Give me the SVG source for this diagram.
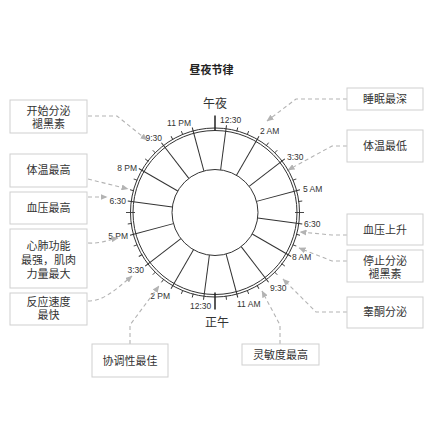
<svg xmlns="http://www.w3.org/2000/svg" width="437" height="437" viewBox="0 0 437 437">
<style>
text{font-family:"Liberation Sans","Noto Sans CJK SC",sans-serif;fill:#333}
.t{font-size:8.5px}
.b{font-size:11px;text-anchor:middle}
.box{fill:#fff;stroke:#cfcfcf;stroke-width:1}
.ln{stroke:#333;stroke-width:1;fill:none}
.tk{stroke:#333;stroke-width:0.9}
.c{fill:none;stroke:#b3b3b3;stroke-width:1.1;stroke-dasharray:4 3}
</style>
<defs>
<marker id="ah" markerUnits="userSpaceOnUse" markerWidth="7" markerHeight="6" refX="6.5" refY="3" orient="auto"><path d="M0,0 L7,3 L0,6 z" fill="#b3b3b3"/></marker>
</defs>
<rect width="437" height="437" fill="#fff"/>
<text x="211.5" y="74" style="font-size:11px;font-weight:bold;text-anchor:middle;fill:#222">昼夜节律</text>
<g id="clock">
<circle cx="215" cy="212.5" r="84.5" class="ln"/>
<circle cx="215" cy="212.5" r="82" class="ln"/>
<circle cx="215" cy="212.5" r="43" class="ln"/>
<g class="ln">
<line x1="215" y1="169.5" x2="215" y2="124.5" transform="rotate(7.5 215 212.5)"/>
<line x1="215" y1="169.5" x2="215" y2="124.5" transform="rotate(30 215 212.5)"/>
<line x1="215" y1="169.5" x2="215" y2="124.5" transform="rotate(52.5 215 212.5)"/>
<line x1="215" y1="169.5" x2="215" y2="124.5" transform="rotate(75 215 212.5)"/>
<line x1="215" y1="169.5" x2="215" y2="124.5" transform="rotate(97.5 215 212.5)"/>
<line x1="215" y1="169.5" x2="215" y2="124.5" transform="rotate(120 215 212.5)"/>
<line x1="215" y1="169.5" x2="215" y2="124.5" transform="rotate(142.5 215 212.5)"/>
<line x1="215" y1="169.5" x2="215" y2="124.5" transform="rotate(165 215 212.5)"/>
<line x1="215" y1="169.5" x2="215" y2="124.5" transform="rotate(187.5 215 212.5)"/>
<line x1="215" y1="169.5" x2="215" y2="124.5" transform="rotate(210 215 212.5)"/>
<line x1="215" y1="169.5" x2="215" y2="124.5" transform="rotate(232.5 215 212.5)"/>
<line x1="215" y1="169.5" x2="215" y2="124.5" transform="rotate(255 215 212.5)"/>
<line x1="215" y1="169.5" x2="215" y2="124.5" transform="rotate(277.5 215 212.5)"/>
<line x1="215" y1="169.5" x2="215" y2="124.5" transform="rotate(300 215 212.5)"/>
<line x1="215" y1="169.5" x2="215" y2="124.5" transform="rotate(322.5 215 212.5)"/>
<line x1="215" y1="169.5" x2="215" y2="124.5" transform="rotate(345 215 212.5)"/>
</g>
<g class="tk">
<line x1="215" y1="128.5" x2="215" y2="124.5" transform="rotate(15 215 212.5)"/>
<line x1="215" y1="128.5" x2="215" y2="124.5" transform="rotate(22.5 215 212.5)"/>
<line x1="215" y1="128.5" x2="215" y2="124.5" transform="rotate(37.5 215 212.5)"/>
<line x1="215" y1="128.5" x2="215" y2="124.5" transform="rotate(45 215 212.5)"/>
<line x1="215" y1="128.5" x2="215" y2="124.5" transform="rotate(60 215 212.5)"/>
<line x1="215" y1="128.5" x2="215" y2="124.5" transform="rotate(67.5 215 212.5)"/>
<line x1="215" y1="128.5" x2="215" y2="124.5" transform="rotate(82.5 215 212.5)"/>
<line x1="215" y1="128.5" x2="215" y2="124.5" transform="rotate(105 215 212.5)"/>
<line x1="215" y1="128.5" x2="215" y2="124.5" transform="rotate(112.5 215 212.5)"/>
<line x1="215" y1="128.5" x2="215" y2="124.5" transform="rotate(127.5 215 212.5)"/>
<line x1="215" y1="128.5" x2="215" y2="124.5" transform="rotate(135 215 212.5)"/>
<line x1="215" y1="128.5" x2="215" y2="124.5" transform="rotate(150 215 212.5)"/>
<line x1="215" y1="128.5" x2="215" y2="124.5" transform="rotate(157.5 215 212.5)"/>
<line x1="215" y1="128.5" x2="215" y2="124.5" transform="rotate(172.5 215 212.5)"/>
<line x1="215" y1="128.5" x2="215" y2="124.5" transform="rotate(195 215 212.5)"/>
<line x1="215" y1="128.5" x2="215" y2="124.5" transform="rotate(202.5 215 212.5)"/>
<line x1="215" y1="128.5" x2="215" y2="124.5" transform="rotate(217.5 215 212.5)"/>
<line x1="215" y1="128.5" x2="215" y2="124.5" transform="rotate(225 215 212.5)"/>
<line x1="215" y1="128.5" x2="215" y2="124.5" transform="rotate(240 215 212.5)"/>
<line x1="215" y1="128.5" x2="215" y2="124.5" transform="rotate(247.5 215 212.5)"/>
<line x1="215" y1="128.5" x2="215" y2="124.5" transform="rotate(262.5 215 212.5)"/>
<line x1="215" y1="128.5" x2="215" y2="124.5" transform="rotate(285 215 212.5)"/>
<line x1="215" y1="128.5" x2="215" y2="124.5" transform="rotate(292.5 215 212.5)"/>
<line x1="215" y1="128.5" x2="215" y2="124.5" transform="rotate(307.5 215 212.5)"/>
<line x1="215" y1="128.5" x2="215" y2="124.5" transform="rotate(315 215 212.5)"/>
<line x1="215" y1="128.5" x2="215" y2="124.5" transform="rotate(330 215 212.5)"/>
<line x1="215" y1="128.5" x2="215" y2="124.5" transform="rotate(337.5 215 212.5)"/>
<line x1="215" y1="132.5" x2="215" y2="123.5" transform="rotate(90 215 212.5)"/>
<line x1="215" y1="132.5" x2="215" y2="123.5" transform="rotate(270 215 212.5)"/>
</g>
<line x1="215" y1="130.5" x2="215" y2="115.5" stroke="#222" stroke-width="1.5"/>
<line x1="215" y1="292.5" x2="215" y2="309.5" stroke="#222" stroke-width="1.5"/>
<text x="215" y="108" style="font-size:12px;text-anchor:middle">午夜</text>
<text x="217" y="327" style="font-size:12px;text-anchor:middle">正午</text>
<g class="t">
<text x="220" y="123">12:30</text>
<text x="260" y="134">2 AM</text>
<text x="287" y="160">3:30</text>
<text x="303" y="192">5 AM</text>
<text x="304" y="227">6:30</text>
<text x="292" y="260">8 AM</text>
<text x="270" y="291">9:30</text>
<text x="237" y="307">11 AM</text>
<text x="190" y="309">12:30</text>
<text x="170" y="299" text-anchor="end">2 PM</text>
<text x="144" y="273" text-anchor="end">3:30</text>
<text x="128" y="239" text-anchor="end">5 PM</text>
<text x="126" y="204" text-anchor="end">6:30</text>
<text x="137" y="171" text-anchor="end">8 PM</text>
<text x="162" y="141" text-anchor="end">9:30</text>
<text x="191" y="126" text-anchor="end">11 PM</text>
</g>
</g>
<g id="connectors">
<path class="c" d="M88,116 L117,116 L147,140" marker-end="url(#ah)"/>
<path class="c" d="M88,179 L128,189" marker-end="url(#ah)"/>
<path class="c" d="M88,197 L107,197" marker-end="url(#ah)"/>
<path class="c" d="M88,243 C100,244 108,240 118,238" marker-end="url(#ah)"/>
<path class="c" d="M88,301 C102,301 112,293 132,276" marker-end="url(#ah)"/>
<path class="c" d="M130,344 L130,325 L159,286" marker-end="url(#ah)"/>
<path class="c" d="M280,344 L280,325 L262,291" marker-end="url(#ah)"/>
<path class="c" d="M347,312 L316,312 L283,279" marker-end="url(#ah)"/>
<path class="c" d="M347,261 L332,261 L299,248" marker-end="url(#ah)"/>
<path class="c" d="M347,235 L332,235 L300,232" marker-end="url(#ah)"/>
<path class="c" d="M347,146 L332,146 L288,170" marker-end="url(#ah)"/>
<path class="c" d="M347,99 L296,99 L267,121" marker-end="url(#ah)"/>
</g>
<g id="n1"><rect class="box" x="10" y="100" width="77" height="33"/><text class="b" x="48.5" y="115">开始分泌</text><text class="b" x="48.5" y="128">褪黑素</text></g>
<g id="n2"><rect class="box" x="10" y="154" width="77" height="33"/><text class="b" x="48.5" y="174">体温最高</text></g>
<g id="n3"><rect class="box" x="10" y="192" width="77" height="32"/><text class="b" x="48.5" y="212">血压最高</text></g>
<g id="n4"><rect class="box" x="10" y="229" width="77" height="59"/><text class="b" x="48.5" y="250">心肺功能</text><text class="b" x="48.5" y="264">最强，肌肉</text><text class="b" x="48.5" y="278">力量最大</text></g>
<g id="n5"><rect class="box" x="10" y="293" width="77" height="32"/><text class="b" x="48.5" y="306">反应速度</text><text class="b" x="48.5" y="319">最快</text></g>
<g id="n6"><rect class="box" x="92" y="344" width="76" height="33"/><text class="b" x="130" y="365">协调性最佳</text></g>
<g id="n7"><rect class="box" x="242" y="344" width="77" height="21"/><text class="b" x="280.5" y="359">灵敏度最高</text></g>
<g id="n8"><rect class="box" x="347" y="88" width="76" height="22"/><text class="b" x="385" y="103">睡眠最深</text></g>
<g id="n9"><rect class="box" x="347" y="130" width="76" height="32"/><text class="b" x="385" y="150">体温最低</text></g>
<g id="n10"><rect class="box" x="347" y="214" width="76" height="31"/><text class="b" x="385" y="234">血压上升</text></g>
<g id="n11"><rect class="box" x="347" y="250" width="76" height="32"/><text class="b" x="385" y="265">停止分泌</text><text class="b" x="385" y="278">褪黑素</text></g>
<g id="n12"><rect class="box" x="347" y="297" width="76" height="31"/><text class="b" x="385" y="316">睾酮分泌</text></g>
</svg>
